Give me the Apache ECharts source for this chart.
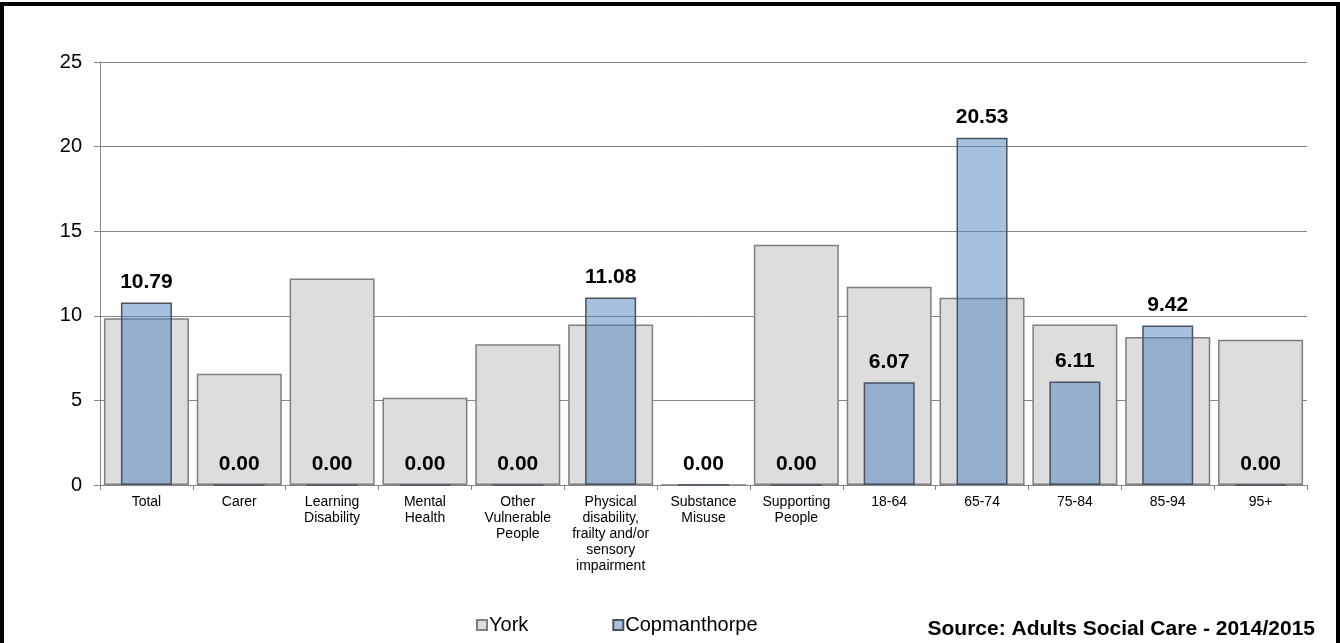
<!DOCTYPE html>
<html>
<head>
<meta charset="utf-8">
<script src="https://cdn.jsdelivr.net/npm/echarts@6/dist/echarts.min.js"></script>
<style>html,body{margin:0;padding:0;background:#fff;}#c{width:1340px;height:643px;}</style>
</head>
<body>
<div id="c"></div>
<script>
const categories = ["Total","Carer","Learning\nDisability","Mental\nHealth","Other\nVulnerable\nPeople","Physical\ndisability,\nfrailty and/or\nsensory\nimpairment","Substance\nMisuse","Supporting\nPeople","18-64","65-74","75-84","85-94","95+"];
const yorkValues = [9.86, 6.57, 12.2, 5.15, 8.32, 9.48, 0, 14.2, 11.72, 11.06, 9.49, 8.74, 8.58];
const copmanthorpeValues = [10.79, 0, 0, 0, 0, 11.08, 0, 0, 6.07, 20.53, 6.11, 9.42, 0];
const yTicks = [0, 5, 10, 15, 20, 25];

const chart = echarts.init(document.getElementById('c'));
const font = 'Liberation Sans, Arial, sans-serif';
chart.setOption({
  animation: false,
  grid: {left: 100, right: 33, top: 62, bottom: 158},
  legend: {
    data: ['York', 'Copmanthorpe'],
    left: 471, top: 610,
    icon: 'rect', itemWidth: 10, itemHeight: 10, itemGap: 84,
    textStyle: {fontFamily: font, fontSize: 20, color: '#000', padding: [0,0,0,-3]}
  },
  xAxis: [{
    type: 'category', data: categories, boundaryGap: true,
    axisLine: {lineStyle: {color: '#868686', width: 1}},
    axisTick: {show: true, interval: 0, length: 5, lineStyle: {color: '#868686'}},
    axisLabel: {interval: 0, fontFamily: 'Liberation Sans Narrow, Arial Narrow, Liberation Sans, sans-serif', fontSize: 14, color: '#000', lineHeight: 16, margin: 9}
  }, {
    type: 'category', data: categories, show: false, boundaryGap: true
  }],
  yAxis: {
    type: 'value', min: 0, max: 25, interval: 5,
    axisLine: {show: true, lineStyle: {color: '#868686'}},
    axisTick: {show: true, length: 6, lineStyle: {color: '#868686'}},
    splitLine: {lineStyle: {color: '#868686', width: 1}},
    axisLabel: {fontFamily: font, fontSize: 20, color: '#000', margin: 18,
      formatter: v => yTicks.includes(v) ? String(v) : ''}
  },
  series: [{
    name: 'York', type: 'bar', xAxisIndex: 0, data: yorkValues, barWidth: 85,
    itemStyle: {color: '#dddddd', borderColor: '#7f7f7f', borderWidth: 1.5},
    z: 2
  }, {
    name: 'Copmanthorpe', type: 'bar', xAxisIndex: 1, data: copmanthorpeValues, barWidth: 51,
    itemStyle: {color: 'rgba(79,129,189,0.5)', borderColor: '#4a5260', borderWidth: 1.5},
    label: {show: true, position: 'top', distance: 10, fontFamily: font, fontSize: 21, fontWeight: 'bold', color: '#000',
      formatter: p => p.value.toFixed(2)},
    z: 3
  }],
  graphic: [{
    type: 'rect', shape: {x: 2, y: 4, width: 1336, height: 660},
    style: {fill: 'none', stroke: '#000', lineWidth: 4}, silent: true, z: 10
  }, {
    type: 'text', right: 25, top: 619,
    style: {text: 'Source: Adults Social Care - 2014/2015', fontFamily: font, fontSize: 21, fontWeight: 'bold', fill: '#000'}
  }]
});
</script>
</body>
</html>
